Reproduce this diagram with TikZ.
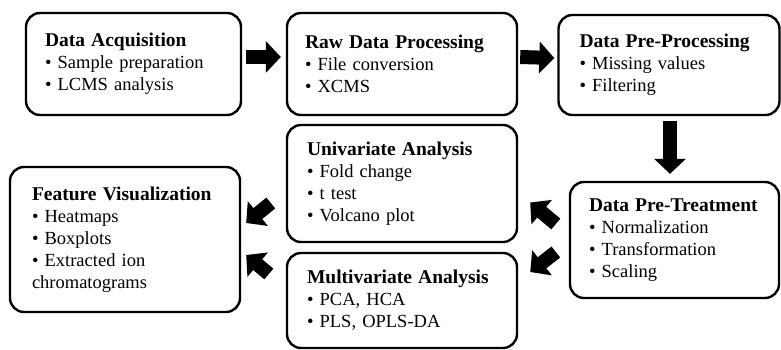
\documentclass[tikz,border=0pt]{standalone}
\usepackage{fontspec}
\setmainfont{Liberation Serif}
\usetikzlibrary{arrows.meta}
\tikzset{
  box/.style={draw=black, line width=2.4pt, rounded corners=14pt, align=left,
    inner ysep=0pt, font=\fontsize{18.5}{22}\selectfont},
  fat/.style={line width=14pt, -{Triangle[length=15pt,width=31pt]}},
}
\newcommand{\ttl}[1]{{\fontsize{19.5}{22}\selectfont\bfseries #1}}
\newcommand{\itm}{\textbullet~}
\begin{document}
\begin{tikzpicture}[x=1pt,y=-1pt]
\useasboundingbox (0,0) rectangle (781,349);
\node[box, minimum width=215pt, minimum height=102pt, text width=177pt, inner xsep=19pt] (b1) at (133.5,64)
  {\ttl{Data Acquisition}\\\itm Sample preparation\\\itm LCMS analysis};
\node[box, minimum width=230pt, minimum height=102pt, text width=194pt, inner xsep=18pt] (b2) at (402,64)
  {\ttl{Raw Data Processing}\\\itm File conversion\\\itm XCMS};
\node[box, minimum width=221pt, minimum height=100pt, text width=179pt, inner xsep=21pt] (b3) at (669,65)
  {\ttl{Data Pre-Processing}\\\itm Missing values\\\itm Filtering};
\node[box, minimum width=230pt, minimum height=117pt, text width=190pt, inner xsep=20pt] (b4) at (402,183.5)
  {\ttl{Univariate Analysis}\\\itm Fold change\\\itm t test\\\itm Volcano plot};
\node[box, minimum width=230pt, minimum height=95pt, text width=190pt, inner xsep=20pt] (b5) at (402,300.5)
  {\ttl{Multivariate Analysis}\\\itm PCA, HCA\\\itm PLS, OPLS-DA};
\node[box, minimum width=209pt, minimum height=116pt, text width=171pt, inner xsep=19pt] (b6) at (674.5,240)
  {\ttl{Data Pre-Treatment}\\\itm Normalization\\\itm Transformation\\\itm Scaling};
\node[box, minimum width=230pt, minimum height=145pt, text width=186pt, inner xsep=22pt] (b7) at (125,239.5)
  {\ttl{Feature Visualization}\\\itm Heatmaps\\\itm Boxplots\\\itm Extracted ion\\chromatograms};
% connectors
\draw[fat] ([xshift=4pt,yshift=7pt]b1.east) -- ([xshift=-5pt,yshift=7pt]b2.west);
\draw[fat] ([xshift=2pt,yshift=7pt]b2.east) -- ([xshift=-3pt,yshift=7pt]b3.west);
\draw[fat] ([xshift=1pt,yshift=-5pt]b3.south) -- ([xshift=-4.5pt,yshift=7pt]b6.north);
\draw[fat] ([xshift=-13pt,yshift=16pt]b6.west) -- ([xshift=12pt,yshift=-19pt]b4.east);
\draw[fat] ([xshift=-13pt,yshift=-12pt]b6.west) -- ([xshift=12pt,yshift=28.5pt]b5.east);
\draw[fat] ([xshift=-15pt,yshift=-19.5pt]b4.west) -- ([xshift=5pt,yshift=16.5pt]b7.east);
\draw[fat] ([xshift=-17pt,yshift=26.5pt]b5.west) -- ([xshift=5pt,yshift=-15.5pt]b7.east);
\end{tikzpicture}
\end{document}
